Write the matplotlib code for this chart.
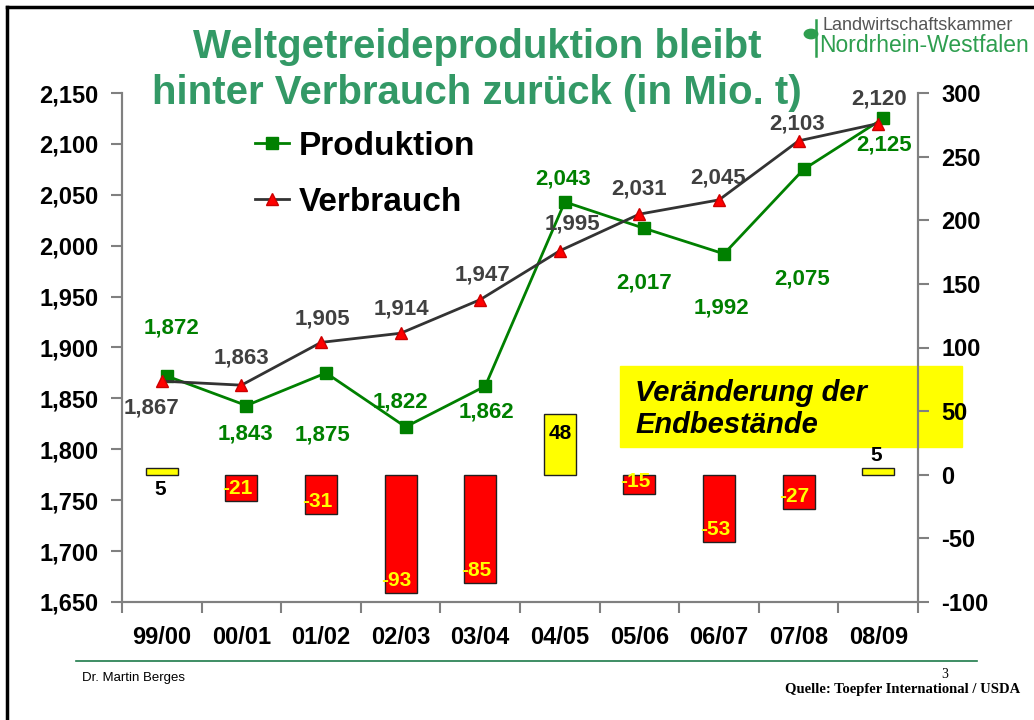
import numpy as np
import matplotlib
matplotlib.use("Agg")
import matplotlib.pyplot as plt
from matplotlib.lines import Line2D
from matplotlib.ticker import FuncFormatter
from matplotlib.transforms import offset_copy

plt.rcParams["font.family"] = ["Liberation Sans", "DejaVu Sans"]
plt.rcParams["axes.unicode_minus"] = False

jahre = ["99/00", "00/01", "01/02", "02/03", "03/04", "04/05", "05/06", "06/07", "07/08", "08/09"]
produktion = [1872, 1843, 1875, 1822, 1862, 2043, 2017, 1992, 2075, 2125]
verbrauch = [1867, 1863, 1905, 1914, 1947, 1995, 2031, 2045, 2103, 2120]
endbestand = [5, -21, -31, -93, -85, 48, -15, -53, -27, 5]

# label offsets in pixels (styling only)
prod_off = [(5, 48), (-1, -28), (-4, -62), (-5, 25), (1, -26), (-2, 23), (0, -55), (-3, -54), (-1, -110), (1, -27)]
verb_off = [(-10, -27), (0, 27), (1, 23), (1, 24), (2, 25), (13, 27), (0, 25), (-1, 22), (-2, 17), (1, 25)]

green_t = "#339966"
green = "#008000"
gray_txt = "#404040"
axis_gray = "#808080"

fig = plt.figure(figsize=(10.34, 7.2), dpi=100)
ax = fig.add_axes([122 / 1034, 118 / 720, 796 / 1034, 509 / 720])
ax2 = ax.twinx()
ax.set_zorder(ax2.get_zorder() + 1)
ax.patch.set_visible(False)

x = np.arange(len(jahre))

# bars (right axis)
cols = ["#ffff00" if v > 0 else "#ff0000" for v in endbestand]
ax2.bar(x, endbestand, width=0.4, color=cols, edgecolor="#202020", linewidth=1)
ax2.set_ylim(-100, 300)
ax2.set_yticks(range(-100, 301, 50))
for i, v in enumerate(endbestand):
    if v < 0:
        ax2.annotate(str(v), (x[i], v), xytext=(-4, 3), textcoords="offset pixels",
                     ha="center", va="bottom", color="#ffff00", fontsize=15, fontweight="bold")
    elif v > 20:
        ax2.annotate(str(v), (x[i], v), xytext=(0, -10), textcoords="offset pixels",
                     ha="center", va="top", color="black", fontsize=15, fontweight="bold")
ax2.annotate("5", (x[0], 0), xytext=(-2, -5), textcoords="offset pixels",
             ha="center", va="top", color="black", fontsize=15, fontweight="bold")
ax2.annotate("5", (x[9], endbestand[9]), xytext=(-2, 3), textcoords="offset pixels",
             ha="center", va="bottom", color="black", fontsize=15, fontweight="bold")

# lines (left axis); production drawn slightly shifted as in the original
shift = offset_copy(ax.transData, fig=fig, x=5, y=0, units="dots")
ax.plot(x, produktion, color=green, lw=2, marker="s", ms=8, mfc=green, mec=green, zorder=3, transform=shift)
ax.plot(x, verbrauch, color="#333333", lw=2, marker="^", ms=9, mfc="#ff0000", mec="#cc0000", zorder=4)
ax.set_ylim(1650, 2150)
ax.set_yticks(range(1650, 2151, 50))
ax.yaxis.set_major_formatter(FuncFormatter(lambda v, p: f"{int(v):,}"))
ax.set_xlim(-0.5, 9.5)
ax.set_xticks(np.arange(-0.5, 10, 1))
ax.set_xticklabels([])
ax.set_xticks(x, minor=True)
ax.set_xticklabels(jahre, minor=True)
ax.tick_params(axis="x", which="minor", length=0, pad=17, labelsize=17)
ax.tick_params(axis="x", which="major", length=8, width=1.5, color=axis_gray)

for i in range(len(x)):
    ax.annotate(f"{produktion[i]:,}", (x[i], produktion[i]), xycoords=shift, xytext=prod_off[i],
                textcoords="offset pixels", ha="center", va="center", color=green, fontsize=16, fontweight="bold")
    ax.annotate(f"{verbrauch[i]:,}", (x[i], verbrauch[i]), xytext=verb_off[i], textcoords="offset pixels",
                ha="center", va="center", color=gray_txt, fontsize=16, fontweight="bold")

for a in (ax, ax2):
    for s in a.spines.values():
        s.set_color(axis_gray)
        s.set_linewidth(1.5)
    a.spines["top"].set_visible(False)
    a.tick_params(axis="y", length=8, width=1.5, color=axis_gray, labelsize=17, pad=9)
for lab in ax.get_yticklabels() + ax2.get_yticklabels() + ax.get_xticklabels(minor=True):
    lab.set_fontweight("bold")

handles = [Line2D([], [], color=green, lw=2, marker="s", ms=8),
           Line2D([], [], color="#333333", lw=2, marker="^", ms=9, mfc="#ff0000", mec="#cc0000")]
ax.legend(handles, ["Produktion", "Verbrauch"], loc="upper left", bbox_to_anchor=(0.13, 0.985),
          frameon=False, prop={"size": 24, "weight": "bold"}, handlelength=1.0, handletextpad=0.3,
          labelspacing=0.75)

# yellow box
fig.text(635 / 1034, 1 - 409 / 720, "Veränderung der\nEndbestände", fontsize=21, fontweight="bold",
         style="italic", va="center", ha="left", linespacing=1.2)
fig.patches.append(plt.Rectangle((620 / 1034, 1 - 447 / 720), 342 / 1034, 81 / 720,
                                 transform=fig.transFigure, color="#ffff00", zorder=-1))

# title
fig.text(477 / 1034, 1 - 70 / 720, "Weltgetreideproduktion bleibt\nhinter Verbrauch zurück (in Mio. t)",
         ha="center", va="center", color=green_t, fontsize=29, fontweight="bold", linespacing=1.27)

# logo
fig.text(822 / 1034, 1 - 25 / 720, "Landwirtschaftskammer", fontsize=13, color="#555555", va="center")
fig.text(819 / 1034, 1 - 46 / 720, "Nordrhein-Westfalen", fontsize=16.5, color="#2e9e4f", va="center")
fig.add_artist(plt.Circle((811 / 1034, 1 - 34 / 720), 0.0065, transform=fig.transFigure, color="#2e9e4f"))
fig.add_artist(Line2D([816 / 1034, 816 / 1034], [1 - 20 / 720, 1 - 56 / 720], color="#2e9e4f", lw=1.8))

# slide frame and footer
fig.add_artist(Line2D([7 / 1034, 1], [1 - 7 / 720, 1 - 7 / 720], color="black", lw=2.5))
fig.add_artist(Line2D([7 / 1034, 7 / 1034], [0, 1 - 7 / 720], color="black", lw=2.5))
fig.add_artist(Line2D([76 / 1034, 977 / 1034], [1 - 661 / 720, 1 - 661 / 720], color="#1e7a4a", lw=1.2))
fig.text(82 / 1034, 1 - 678 / 720, "Dr. Martin Berges", fontsize=9.5, va="center")
fig.text(1020 / 1034, 1 - 689 / 720, "Quelle: Toepfer International / USDA", fontsize=10.5, va="center", ha="right",
         family=["Liberation Serif", "DejaVu Serif"], fontweight="bold")
fig.text(941 / 1034, 1 - 674 / 720, "3", fontsize=10, va="center", family=["Liberation Serif", "DejaVu Serif"])

fig.savefig("out.png", dpi=100)
